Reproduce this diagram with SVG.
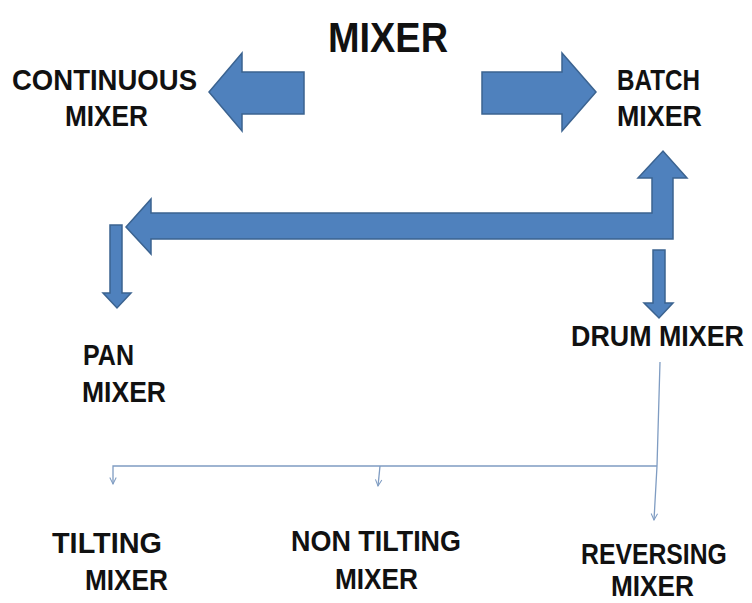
<svg xmlns="http://www.w3.org/2000/svg" width="752" height="603" viewBox="0 0 752 603">
<defs>
<style>
.lbl{font-family:"Liberation Sans",Arial,sans-serif;font-weight:bold;font-size:30px;fill:#111;}
.title{font-family:"Liberation Sans",Arial,sans-serif;font-weight:bold;font-size:42px;fill:#111;}
.blk{fill:#4f81bd;stroke:#3b6390;stroke-width:1.5;stroke-linejoin:miter;}
.thin{fill:none;stroke:#7f9cc2;stroke-width:1.3;}
</style>
<marker id="v" viewBox="0 0 10 10" refX="9" refY="5" markerWidth="8" markerHeight="8" orient="auto" markerUnits="userSpaceOnUse">
<path d="M1,1 L9,5 L1,9" fill="none" stroke="#7f9cc2" stroke-width="1.3"/>
</marker>
</defs>
<rect width="752" height="603" fill="#fff"/>
<g id="connectors">
<polygon class="blk" points="209,92 242,53 242,72 304,72 304,114 242,114 242,131"/>
<polygon class="blk" points="596,92 562,53 562,72 482,72 482,114 562,114 562,131"/>
<polygon class="blk" points="126,227 151,199 151,213 652,213 652,178 638,178 663,151 687,178 673,178 673,239 151,239 151,254"/>
<polygon class="blk" points="110,225 122,225 122,293 131,293 117,308 103,293 110,293"/>
<polygon class="blk" points="653,250 665,250 665,303 673,303 659,318 644,303 653,303"/>
<polyline class="thin" points="660,362 657,466 654,520" marker-end="url(#v)"/>
<polyline class="thin" points="657,466 113,466 113,484" marker-end="url(#v)"/>
<line class="thin" x1="380" y1="466" x2="378" y2="486" marker-end="url(#v)"/>
</g>
<g id="mixer"><text class="title" x="328" y="52" textLength="120" lengthAdjust="spacingAndGlyphs">MIXER</text></g>
<g id="continuous-mixer">
<text class="lbl" x="12" y="90" textLength="185" lengthAdjust="spacingAndGlyphs">CONTINUOUS</text>
<text class="lbl" x="65" y="126" textLength="83" lengthAdjust="spacingAndGlyphs">MIXER</text>
</g>
<g id="batch-mixer">
<text class="lbl" x="617" y="90" textLength="83" lengthAdjust="spacingAndGlyphs">BATCH</text>
<text class="lbl" x="617" y="126" textLength="85" lengthAdjust="spacingAndGlyphs">MIXER</text>
</g>
<g id="pan-mixer">
<text class="lbl" x="83" y="365" textLength="51" lengthAdjust="spacingAndGlyphs">PAN</text>
<text class="lbl" x="82" y="402" textLength="84" lengthAdjust="spacingAndGlyphs">MIXER</text>
</g>
<g id="drum-mixer"><text class="lbl" transform="translate(571,346) scale(0.895,1)">DRUM MIXER</text></g>
<g id="tilting-mixer">
<text class="lbl" x="52" y="553" textLength="110" lengthAdjust="spacingAndGlyphs">TILTING</text>
<text class="lbl" x="85" y="590" textLength="83" lengthAdjust="spacingAndGlyphs">MIXER</text>
</g>
<g id="non-tilting-mixer">
<text class="lbl" x="291" y="551" textLength="170" lengthAdjust="spacingAndGlyphs">NON TILTING</text>
<text class="lbl" x="335" y="589" textLength="83" lengthAdjust="spacingAndGlyphs">MIXER</text>
</g>
<g id="reversing-mixer">
<text class="lbl" transform="translate(581,564) scale(0.826,1)">REVERSING</text>
<text class="lbl" x="611" y="596" textLength="83" lengthAdjust="spacingAndGlyphs">MIXER</text>
</g>
</svg>
